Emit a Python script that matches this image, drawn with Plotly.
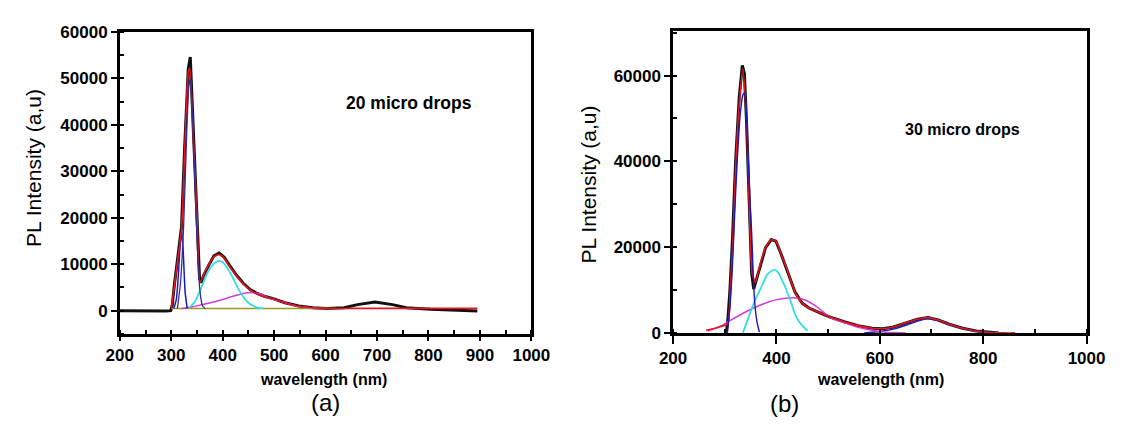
import plotly.graph_objects as go

# ---------------- Panel (a): 20 micro drops ----------------
a_data_x = [200, 230, 260, 290, 299, 302, 306, 313, 320, 326, 333, 337, 343, 350, 355, 358, 363, 373, 383, 393, 403, 413, 427, 440, 454, 467, 481, 498, 521, 548, 575, 602, 636, 662, 696, 730, 757, 804, 844, 895]
a_data_y = [0, -60, 0, -60, 0, 1200, 5500, 11500, 18000, 35000, 52000, 54600, 38500, 21000, 7000, 6000, 7600, 9800, 11800, 12400, 11500, 9800, 7600, 5900, 4500, 3700, 3100, 2600, 1700, 1000, 620, 480, 620, 1300, 1860, 1300, 620, 280, 70, -70]

a_fit_x = [300, 306, 313, 320, 326, 333, 336, 343, 350, 356, 363, 373, 383, 393, 403, 413, 427, 440, 454, 467, 481, 498, 521, 548, 575, 602, 650, 700, 750, 800, 850, 895]
a_fit_y = [480, 5100, 11300, 17500, 34000, 51200, 52200, 37400, 20200, 6100, 7800, 9900, 11600, 12100, 11300, 9600, 7500, 5800, 4400, 3600, 3000, 2550, 1650, 960, 620, 480, 480, 480, 480, 480, 480, 480]

a_p1_x = [305, 310, 314, 318, 321, 324, 327, 331]
a_p1_y = [480, 2500, 8000, 15000, 16800, 11000, 4000, 480]

a_p2_x = [312, 318, 324, 330, 334, 337, 341, 346, 351, 356, 361, 366]
a_p2_y = [480, 6000, 18000, 38000, 48000, 50000, 43000, 28000, 13000, 4000, 1000, 480]

a_p3_x = [335, 345, 355, 365, 375, 385, 393, 400, 410, 420, 430, 440, 450, 460, 470, 480]
a_p3_y = [600, 1800, 4000, 6800, 9000, 10300, 10700, 10400, 9000, 7000, 4800, 3000, 1700, 1000, 600, 480]

a_p4_x = [320, 340, 360, 380, 400, 420, 440, 455, 470, 490, 510, 530, 550, 575, 600]
a_p4_y = [480, 800, 1300, 1800, 2400, 3100, 3700, 3900, 3700, 2700, 2100, 1450, 900, 580, 480]

a_base_x = [300, 620]
a_base_y = [480, 480]

# ---------------- Panel (b): 30 micro drops ----------------
b_data_x = [303, 306, 310, 315, 321, 328, 334, 338, 342, 347, 352, 356, 359, 369, 379, 390, 399, 409, 423, 436, 450, 463, 484, 504, 531, 558, 585, 605, 625, 652, 673, 693, 713, 733, 760, 787, 808, 830]
b_data_y = [0, 3000, 10000, 22000, 40000, 55000, 62400, 60500, 49600, 31000, 14000, 10200, 11500, 16200, 19900, 21750, 21400, 18400, 14000, 9500, 6900, 5800, 4700, 3700, 2600, 1700, 1100, 1000, 1340, 2450, 3200, 3560, 3000, 2080, 1100, 450, 150, 0]

b_fit_x = [264, 288, 305, 311, 315, 321, 328, 335, 342, 347, 353, 359, 369, 379, 390, 399, 409, 423, 436, 450, 463, 484, 504, 531, 558, 585, 605, 625, 652, 673, 693, 713, 733, 760, 787, 808, 841, 862]
b_fit_y = [600, 1340, 2080, 11000, 19900, 38500, 53300, 61500, 49600, 31000, 14000, 11700, 16200, 19900, 21750, 21400, 18400, 14000, 9500, 6900, 5800, 4700, 3700, 2600, 1700, 1100, 1000, 1340, 2450, 3200, 3560, 3000, 2080, 1100, 450, 150, 0, 0]

b_p1_x = [305, 310, 315, 320, 325, 330, 335, 338, 341, 345, 348, 352, 357, 362, 367]
b_p1_y = [0, 6000, 16000, 30000, 42000, 51000, 55500, 56000, 53000, 42000, 33000, 23600, 8800, 2800, 200]

b_p2_x = [335, 348, 358, 369, 382, 390, 397, 404, 409, 416, 423, 430, 436, 443, 450, 460]
b_p2_y = [0, 4300, 7500, 10200, 13600, 14400, 14700, 14000, 12800, 11000, 8800, 6500, 4300, 2800, 1700, 450]

b_p3_x = [267, 294, 315, 342, 369, 396, 423, 450, 477, 504, 531, 558, 585, 612, 650]
b_p3_y = [450, 1700, 3200, 5000, 6500, 7650, 8170, 7900, 6200, 3600, 2400, 1300, 600, 150, 0]

b_p4_x = [570, 600, 630, 660, 690, 720, 750, 780, 810]
b_p4_y = [0, 350, 1000, 2200, 3300, 2700, 1400, 500, 0]

# ---------------- Text ----------------
y_title = "PL Intensity (a,u)"
x_title = "wavelength (nm)"
label_a = "20 micro drops"
label_b = "30 micro drops"

FONT = "Liberation Sans, Arial, sans-serif"
BLACK = "#111111"
RED = "#e8141c"
BLUE = "#1a1ab8"
CYAN = "#33dede"
MAGENTA = "#d43ad8"
OLIVE = "#9a9a20"

fig = go.Figure()

def add(x, y, color, width, xa, ya, shape="spline"):
    fig.add_trace(go.Scatter(x=x, y=y, mode="lines", xaxis=xa, yaxis=ya,
                             line=dict(color=color, width=width, shape=shape, smoothing=0.6),
                             showlegend=False, hoverinfo="skip"))

# panel a
add(a_data_x, a_data_y, BLACK, 3, "x", "y", "linear")
add(a_base_x, a_base_y, OLIVE, 1.5, "x", "y", "linear")
add(a_p4_x, a_p4_y, MAGENTA, 1.5, "x", "y")
add(a_p3_x, a_p3_y, CYAN, 1.8, "x", "y")
add(a_p1_x, a_p1_y, BLUE, 1.5, "x", "y")
add(a_fit_x, a_fit_y, RED, 1.6, "x", "y")
add(a_p2_x, a_p2_y, "#3a2a90", 1.3, "x", "y")

# panel b
add(b_data_x, b_data_y, BLACK, 3, "x2", "y2", "linear")
add(b_p4_x, b_p4_y, BLUE, 1.5, "x2", "y2")
add(b_p3_x, b_p3_y, MAGENTA, 1.5, "x2", "y2")
add(b_p2_x, b_p2_y, CYAN, 1.8, "x2", "y2")
add(b_fit_x, b_fit_y, RED, 1.6, "x2", "y2")
add(b_p1_x, b_p1_y, BLUE, 1.4, "x2", "y2")

tickfont = dict(family=FONT, size=17, color="black", weight="bold")

def axis(rng, dtick, mdtick, domain, anchor, ticklen=6, tick0=None):
    d = dict(range=rng, dtick=dtick, domain=domain, anchor=anchor,
             showgrid=False, zeroline=False, showline=True, mirror=True,
             linecolor="black", linewidth=2.5, ticks="outside", ticklen=ticklen,
             tickwidth=2, tickcolor="black", tickfont=tickfont, tickformat="d",
             minor=dict(dtick=mdtick, ticks="inside", ticklen=4, tickwidth=2, tickcolor="black", showgrid=False))
    if tick0 is not None:
        d["tick0"] = tick0
    return d

fig.update_layout(
    width=1124, height=427,
    margin=dict(l=0, r=0, t=0, b=0),
    paper_bgcolor="white", plot_bgcolor="white",
    xaxis=axis([200, 1000], 100, 50, [109/1124, 533/1124], "y", ticklen=4),
    yaxis=axis([-5000, 60000], 10000, 5000, [1-340/427, 1-24/427], "x", tick0=0),
    xaxis2=axis([200, 1000], 200, 100, [679/1124, 1105/1124], "y2", ticklen=8),
    yaxis2=axis([0, 70400], 20000, 10000, [1-339/427, 1-23/427], "x2", tick0=0),
)

def ann(text, x, y, size, bold=False, angle=0):
    fig.add_annotation(text=text, x=x/1124, y=1-y/427, xref="paper", yref="paper",
                       showarrow=False, textangle=angle, xanchor="center", yanchor="middle",
                       font=dict(family=FONT, size=size, color="black", weight="bold" if bold else "normal"))

ann(y_title, 20, 166, 21, angle=-90)
ann(y_title, 592, 184, 21, angle=-90)
ann(x_title, 319, 388, 16, bold=True)
ann(x_title, 893, 388, 16, bold=True)
ann(label_a, 407, 98, 17.5, bold=True)
ann(label_b, 977, 126, 16, bold=True)
ann("(a)", 321, 412, 24)
ann("(b)", 794, 413, 24)

fig.write_html("out.html")
